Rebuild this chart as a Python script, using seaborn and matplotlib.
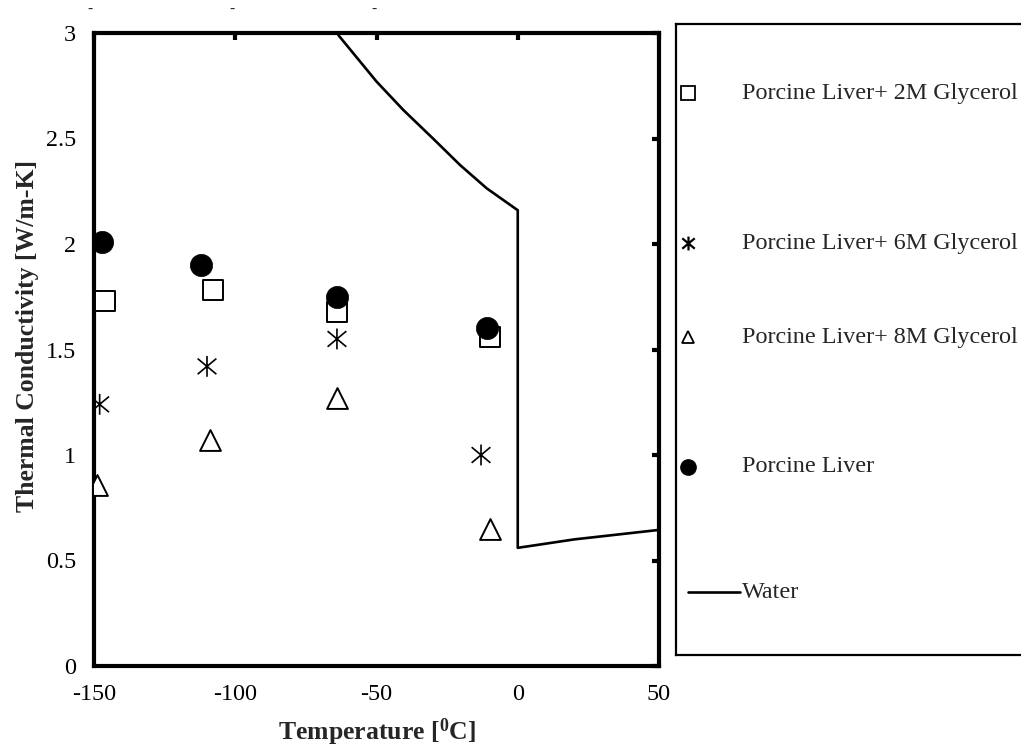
import numpy as np
import pandas as pd
import matplotlib
matplotlib.use("Agg")
import matplotlib.pyplot as plt
from matplotlib.path import Path
import seaborn as sns

# Measured thermal conductivity of porcine liver samples
temp_liver = [-147, -112, -64, -11]
k_liver = [2.01, 1.90, 1.75, 1.60]

temp_2m = [-146, -108, -64, -10]
k_2m = [1.73, 1.78, 1.68, 1.56]

temp_6m = [-148, -110, -64, -13]
k_6m = [1.24, 1.42, 1.55, 1.00]

temp_8m = [-149, -109, -64, -10]
k_8m = [0.86, 1.07, 1.27, 0.65]

# Reference curve for water / ice
temp_water = [-63.5, -50, -40.5, -30, -20.4, -11, 0, 0, 10, 20, 30, 40, 50]
k_water = [2.99, 2.77, 2.635, 2.50, 2.374, 2.264, 2.16, 0.56, 0.58, 0.60, 0.615, 0.63, 0.645]

x_ticks = [-150, -100, -50, 0, 50]
y_ticks = [0, 0.5, 1, 1.5, 2, 2.5, 3]
y_ticklabels = ["0", "0.5", "1", "1.5", "2", "2.5", "3"]

labels = ["Porcine Liver+ 2M Glycerol", "Porcine Liver+ 6M Glycerol",
          "Porcine Liver+ 8M Glycerol", "Porcine Liver", "Water"]

sns.set_style("white")
plt.rcParams["font.family"] = ["Liberation Serif", "DejaVu Serif"]
plt.rcParams["mathtext.fontset"] = "custom"
plt.rcParams["mathtext.rm"] = "Liberation Serif:bold"
plt.rcParams["mathtext.bf"] = "Liberation Serif:bold"

# Six-armed asterisk: vertical stroke plus two diagonals
star = Path([(0, -1), (0, 1), (-0.9, -0.75), (0.9, 0.75), (-0.9, 0.75), (0.9, -0.75)],
            [Path.MOVETO, Path.LINETO, Path.MOVETO, Path.LINETO, Path.MOVETO, Path.LINETO])

fig = plt.figure(figsize=(10.21, 7.47), dpi=100)
ax = fig.add_axes([94 / 1021, 1 - 666 / 747, 565 / 1021, 633 / 747])

df_w = pd.DataFrame({"T": temp_water, "k": k_water})
sns.lineplot(data=df_w, x="T", y="k", sort=False, ax=ax, color="black", lw=1.9,
             estimator=None)

sns.scatterplot(x=temp_2m, y=k_2m, ax=ax, marker="s", s=15 ** 2, facecolor="white",
                edgecolor="black", linewidth=1.4, zorder=3)
sns.scatterplot(x=temp_6m, y=k_6m, ax=ax, marker=star, s=15 ** 2, facecolor="none",
                edgecolor="black", linewidth=1.2, zorder=3)
sns.scatterplot(x=temp_8m, y=k_8m, ax=ax, marker="^", s=15 ** 2, facecolor="white",
                edgecolor="black", linewidth=1.4, zorder=3)
sns.scatterplot(x=temp_liver, y=k_liver, ax=ax, marker="o", s=16 ** 2, color="black",
                edgecolor="black", linewidth=0.5, zorder=4)

ax.set_xlim(-150, 50)
ax.set_ylim(0, 3)
ax.set_xticks(x_ticks)
ax.set_xticklabels([str(v) for v in x_ticks])
ax.set_yticks(y_ticks)
ax.set_yticklabels(y_ticklabels)
ax.tick_params(direction="in", length=5, width=3, top=True, right=True,
               labelsize=17.4, pad=13, colors="black")
for sp in ax.spines.values():
    sp.set_linewidth(3)
    sp.set_color("black")
ax.set_xlabel(r"Temperature [$\mathbf{^{0}}$C]", fontsize=18.5, fontweight="bold",
              labelpad=8)
ax.set_ylabel("Thermal Conductivity [W/m-K]", fontsize=18.5, fontweight="bold")
ax.yaxis.set_label_coords(-0.098, 0.522)

# Legend panel on the right
lax = fig.add_axes([676 / 1021, 1 - 655 / 747, 400 / 1021, 631 / 747])
lax.set_xlim(0, 400)
lax.set_ylim(631, 0)
lax.set_xticks([])
lax.set_yticks([])
for sp in lax.spines.values():
    sp.set_linewidth(1.6)
    sp.set_color("black")

rows = [69, 219, 313, 443, 568]
lax.plot([12], [rows[0]], marker="s", ms=10, mfc="white", mec="black", mew=1.3, ls="none")
lax.plot([12], [rows[1]], marker=star, ms=10, color="black", mew=1.6, ls="none")
lax.plot([12], [rows[2]], marker="^", ms=9, mfc="white", mec="black", mew=1.3, ls="none")
lax.plot([12], [rows[3]], marker="o", ms=11, color="black", ls="none")
lax.plot([12, 64], [rows[4], rows[4]], color="black", lw=1.9)
for r, lab in zip(rows, labels):
    lax.text(66, r, lab, fontsize=17.4, va="center", ha="left")

for xpix in [90, 232, 374]:
    fig.text(xpix / 1021, 1 - 3 / 747, "-", fontsize=11, ha="center", va="top")

fig.savefig("out.png", dpi=100, facecolor="white")
